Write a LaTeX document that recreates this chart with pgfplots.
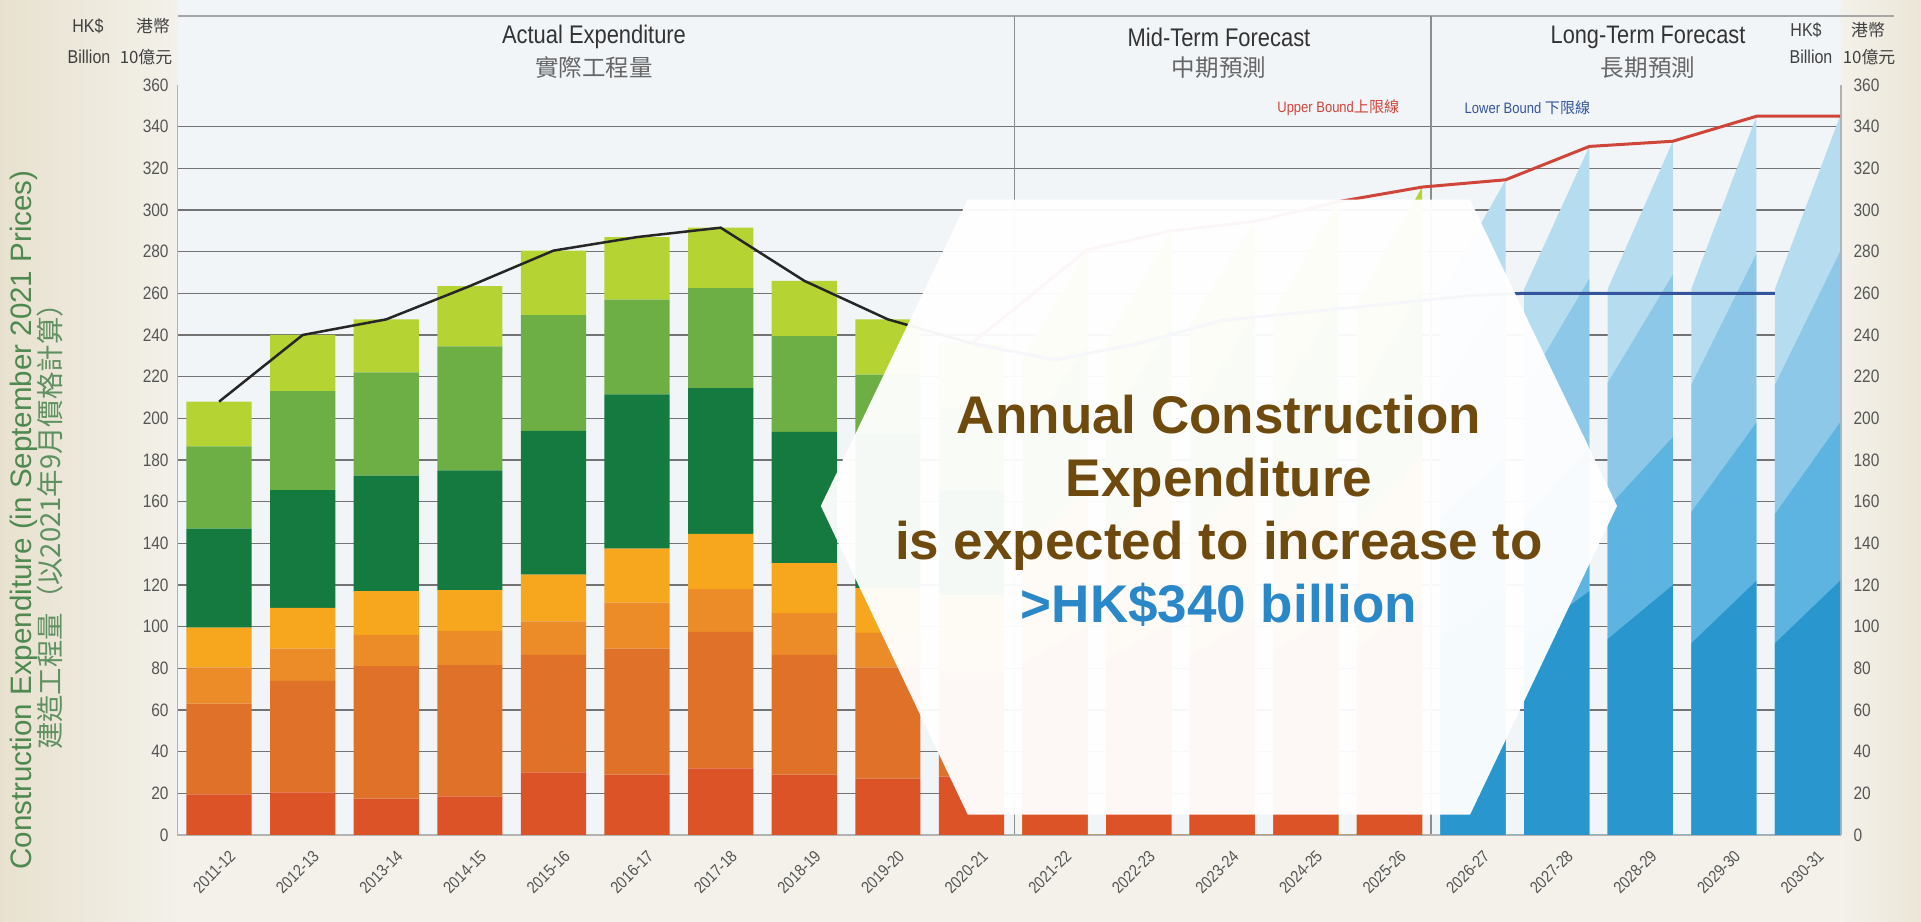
\documentclass[border=0pt]{standalone}
\usepackage{fontspec}
\setmainfont{Liberation Sans}
\newfontfamily\narrow[FakeStretch=0.86]{Liberation Sans}
\newfontfamily\cjk{Noto Sans CJK TC}
\usepackage{pgfplots}
\pgfplotsset{compat=1.18}

\definecolor{cRed}{HTML}{DC5327}
\definecolor{cOrD}{HTML}{E07128}
\definecolor{cOrM}{HTML}{EB8C28}
\definecolor{cAmb}{HTML}{F6A71E}
\definecolor{cDkG}{HTML}{157A3F}
\definecolor{cMdG}{HTML}{6DAF45}
\definecolor{cLtG}{HTML}{B6D334}
\definecolor{bl1}{HTML}{2A96CE}
\definecolor{bl2}{HTML}{5DB4E0}
\definecolor{bl3}{HTML}{8EC8E8}
\definecolor{bl4}{HTML}{B6DCF0}
\definecolor{ub}{HTML}{D0453A}
\definecolor{lb}{HTML}{34559C}
\definecolor{brownT}{HTML}{6F4A0E}
\definecolor{blueT}{HTML}{2A87C8}
\definecolor{ylab}{HTML}{4E8A50}
\definecolor{ylab2}{HTML}{5E9060}
\definecolor{tickc}{HTML}{555555}
\definecolor{plotbg}{HTML}{F1F5F8}
\definecolor{outbg}{HTML}{F3F1EA}
\definecolor{beige}{HTML}{E8E1CF}

\pgfplotsset{
  common/.style={
    at={(17.73mm,8.7mm)}, anchor=south west, scale only axis,
    width=166.36mm, height=75mm,
    xmin=-0.5, xmax=19.4, ymin=0, ymax=360,
    major tick length=0pt,
    /pgf/number format/assume math mode=true,
  },
}

\begin{document}
\begin{tikzpicture}
% background, grid and section frame (coordinates in source pixels)
\begin{scope}[x=0.1mm, y=-0.1mm, yshift=92.2mm]
  \fill[outbg] (0,0) rectangle (1921,922);
  \shade[left color=beige, right color=outbg] (0,0) rectangle (178,922);
  \shade[left color=outbg, right color=beige!70!outbg] (1841,0) rectangle (1921,922);
  \fill[plotbg] (178,0) rectangle (1841,835);
  \foreach \v in {20,40,...,340}
    \draw[black!55, line width=0.15mm] (177.3,{835-2.08333*\v}) -- (1841,{835-2.08333*\v});
  \draw[black!35, line width=0.25mm] (178,16) -- (1894,16);
  \draw[black!45, line width=0.15mm] (1014.4,16) -- (1014.4,835);
  \draw[black!45, line width=0.15mm] (1431,16) -- (1431,835);
\end{scope}

% actual expenditure: stacked bars
\begin{axis}[common,
  ybar stacked, bar width=6.52mm,
  axis x line*=bottom, axis y line*=left,
  axis line style={draw=black!30, line width=0.15mm, -},
  xtick={0,...,19},
  xticklabels={2011-12,2012-13,2013-14,2014-15,2015-16,2016-17,2017-18,2018-19,2019-20,2020-21,
    2021-22,2022-23,2023-24,2024-25,2025-26,2026-27,2027-28,2028-29,2029-30,2030-31},
  x tick label style={rotate=45, anchor=north east, inner sep=0pt, xshift=-0.3mm, yshift=-1.6mm,
    font=\narrow\fontsize{4.75pt}{6pt}\selectfont, text=tickc},
  ytick={0,20,...,360},
  yticklabel style={anchor=east, inner sep=0pt, xshift=-0.8mm,
    font=\narrow\fontsize{5.12pt}{6pt}\selectfont, text=tickc},
]
\addplot[fill=cRed, draw=none] coordinates {(0,19.5) (1,20.5) (2,17.5) (3,18.5) (4,30) (5,29) (6,32) (7,29) (8,27) (9,28)};
\addplot[fill=cOrD, draw=none] coordinates {(0,43.5) (1,53.5) (2,63.5) (3,63) (4,56.5) (5,60.5) (6,65.5) (7,57.5) (8,53.5) (9,50)};
\addplot[fill=cOrM, draw=none] coordinates {(0,17.5) (1,15.5) (2,15) (3,16.5) (4,16) (5,22) (6,20.5) (7,20) (8,16.5) (9,17)};
\addplot[fill=cAmb, draw=none] coordinates {(0,19) (1,19.5) (2,21) (3,19.5) (4,22.5) (5,26) (6,26.5) (7,24) (8,21.5) (9,20)};
\addplot[fill=cDkG, draw=none] coordinates {(0,47.5) (1,56.5) (2,55.5) (3,57.5) (4,69) (5,74) (6,70) (7,63) (8,74) (9,50)};
\addplot[fill=cMdG, draw=none] coordinates {(0,39.5) (1,47.5) (2,49.5) (3,59.5) (4,55.5) (5,45.5) (6,48) (7,46) (8,28.5) (9,40)};
\addplot[fill=cLtG, draw=none] coordinates {(0,21.5) (1,27) (2,25.5) (3,29) (4,31) (5,30) (6,29) (7,26.5) (8,26.5) (9,31)};
\end{axis}

% forecasts (slanted bars) and lines
\begin{axis}[common,
  axis x line=none, axis y line*=right,
  axis line style={draw=black!30, line width=0.15mm, -},
  xtick=\empty, ytick={0,20,...,360},
  yticklabel style={anchor=west, inner sep=0pt, xshift=1.2mm,
    font=\narrow\fontsize{5.12pt}{6pt}\selectfont, text=tickc},
]
% mid-term forecast
\addplot[fill=cLtG, draw=none] coordinates {(9.61,0) (9.61,229) (10.39,281) (10.39,0) (10.61,0) (10.61,236) (11.39,290) (11.39,0)
  (11.61,0) (11.61,245) (12.39,294.5) (12.39,0) (12.61,0) (12.61,251) (13.39,304) (13.39,0) (13.61,0) (13.61,255) (14.39,311) (14.39,0)} \closedcycle;
\addplot[fill=cMdG, draw=none] coordinates {(9.61,0) (9.61,190) (10.39,235) (10.39,0) (10.61,0) (10.61,195) (11.39,245) (11.39,0)
  (11.61,0) (11.61,200) (12.39,250) (12.39,0) (12.61,0) (12.61,205) (13.39,258) (13.39,0) (13.61,0) (13.61,208) (14.39,262) (14.39,0)} \closedcycle;
\addplot[fill=cOrM, draw=none] coordinates {(9.61,0) (9.61,138) (10.39,165) (10.39,0) (10.61,0) (10.61,140) (11.39,170) (11.39,0)
  (11.61,0) (11.61,142) (12.39,172) (12.39,0) (12.61,0) (12.61,145) (13.39,178) (13.39,0) (13.61,0) (13.61,148) (14.39,182) (14.39,0)} \closedcycle;
\addplot[fill=cRed, draw=none] coordinates {(9.61,0) (9.61,82) (10.39,100) (10.39,0) (10.61,0) (10.61,84) (11.39,102) (11.39,0)
  (11.61,0) (11.61,86) (12.39,104) (12.39,0) (12.61,0) (12.61,88) (13.39,108) (13.39,0) (13.61,0) (13.61,90) (14.39,112) (14.39,0)} \closedcycle;
% long-term forecast
\addplot[fill=bl4, draw=none] coordinates {(14.61,0) (14.61,259) (15.39,314.5) (15.39,0) (15.61,0) (15.61,262) (16.39,330.5) (16.39,0)
  (16.61,0) (16.61,262) (17.39,333) (17.39,0) (17.61,0) (17.61,262) (18.39,345) (18.39,0) (18.61,0) (18.61,262) (19.39,345) (19.39,0)} \closedcycle;
\addplot[fill=bl3, draw=none] coordinates {(14.61,0) (14.61,212) (15.39,262) (15.39,0) (15.61,0) (15.61,214) (16.39,267) (16.39,0)
  (16.61,0) (16.61,217) (17.39,269) (17.39,0) (17.61,0) (17.61,216) (18.39,279) (18.39,0) (18.61,0) (18.61,216) (19.39,280) (19.39,0)} \closedcycle;
\addplot[fill=bl2, draw=none] coordinates {(14.61,0) (14.61,152) (15.39,182) (15.39,0) (15.61,0) (15.61,152) (16.39,186) (16.39,0)
  (16.61,0) (16.61,157) (17.39,191) (17.39,0) (17.61,0) (17.61,155) (18.39,198) (18.39,0) (18.61,0) (18.61,154) (19.39,198) (19.39,0)} \closedcycle;
\addplot[fill=bl1, draw=none] coordinates {(14.61,0) (14.61,94) (15.39,117) (15.39,0) (15.61,0) (15.61,94) (16.39,117) (16.39,0)
  (16.61,0) (16.61,94) (17.39,120) (17.39,0) (17.61,0) (17.61,92) (18.39,122) (18.39,0) (18.61,0) (18.61,92) (19.39,122) (19.39,0)} \closedcycle;
% lines
\addplot[black!85, line width=0.25mm] coordinates {(0,208) (1,240) (2,247.5) (3,263.5) (4,280.5) (5,287) (6,291.5) (7,266) (8,247.5) (9,236)};
\addplot[ub, line width=0.3mm] coordinates {(9,236) (10.39,281) (11.39,290) (12.39,294.5) (13.39,304) (14.39,311) (15.39,314.5)
  (16.39,330.5) (17.39,333) (18.39,345) (19.39,345)};
\addplot[lb, line width=0.3mm] coordinates {(9,236) (10,228) (11,236) (12,247) (13,251) (14,255) (15,259) (15.61,260) (18.61,260)};
\end{axis}

% headers, axis title and the call-out
\begin{scope}[x=0.1mm, y=-0.1mm, yshift=92.2mm]
  \fill[white, fill opacity=0.955] (820.8,506) -- (967.8,199.7) -- (1470,199.7) -- (1617,506) -- (1470,814.7) -- (967.8,814.7) -- cycle;
  \node[align=center, text=brownT, font=\bfseries\fontsize{15.08pt}{17.9pt}\selectfont] at (1219,511)
    {Annual Construction\\Expenditure\\is expected to increase to\\\textcolor{blueT}{>HK\$340 billion}};

  \node[text=black!80, font=\narrow\fontsize{7.25pt}{8pt}\selectfont] at (594,37) {Actual Expenditure};
  \node[text=black!60, font=\cjk\fontsize{6.69pt}{7pt}\selectfont] at (594,68) {實際工程量};
  \node[text=black!80, font=\narrow\fontsize{7.25pt}{8pt}\selectfont] at (1219,37) {Mid-Term Forecast};
  \node[text=black!60, font=\cjk\fontsize{6.69pt}{7pt}\selectfont] at (1219,68) {中期預測};
  \node[text=black!80, font=\narrow\fontsize{7.2pt}{8pt}\selectfont] at (1648,37) {Long-Term Forecast};
  \node[text=black!60, font=\cjk\fontsize{6.69pt}{7pt}\selectfont] at (1648,68) {長期預測};

  \node[text=black!75, font=\narrow\fontsize{5.3pt}{6pt}\selectfont] at (88,26) {HK\$};
  \node[text=black!75, font=\cjk\fontsize{4.8pt}{6pt}\selectfont] at (153,26) {港幣};
  \node[text=black!75, font=\narrow\fontsize{5.3pt}{6pt}\selectfont] at (89,57) {Billion};
  \node[text=black!75, font=\cjk\fontsize{4.8pt}{6pt}\selectfont] at (146,57) {10億元};
  \node[text=black!75, font=\narrow\fontsize{5.3pt}{6pt}\selectfont] at (1806,30) {HK\$};
  \node[text=black!75, font=\cjk\fontsize{4.8pt}{6pt}\selectfont] at (1868,30) {港幣};
  \node[text=black!75, font=\narrow\fontsize{5.3pt}{6pt}\selectfont] at (1811,57) {Billion};
  \node[text=black!75, font=\cjk\fontsize{4.8pt}{6pt}\selectfont] at (1869,57) {10億元};

  \node[anchor=east, inner sep=0pt, text=ub, font=\narrow\fontsize{4.3pt}{5pt}\selectfont] at (1400,108) {Upper Bound\cjk 上限線};
  \node[anchor=west, inner sep=0pt, text=lb, font=\narrow\fontsize{4.3pt}{5pt}\selectfont] at (1464,108) {Lower Bound {\cjk 下限線}};

  \node[rotate=90, text=ylab, font=\fontsize{8.4pt}{9pt}\selectfont] at (24,520)
    {Construction Expenditure (in September 2021 Prices)};
  \node[rotate=90, text=ylab2, font=\cjk\fontsize{7.8pt}{9pt}\selectfont] at (50,520)
    {建造工程量（以2021年9月價格計算）};
\end{scope}
\pgfresetboundingbox
\useasboundingbox (0,0) rectangle (192.1mm,92.2mm);
\end{tikzpicture}
\end{document}
